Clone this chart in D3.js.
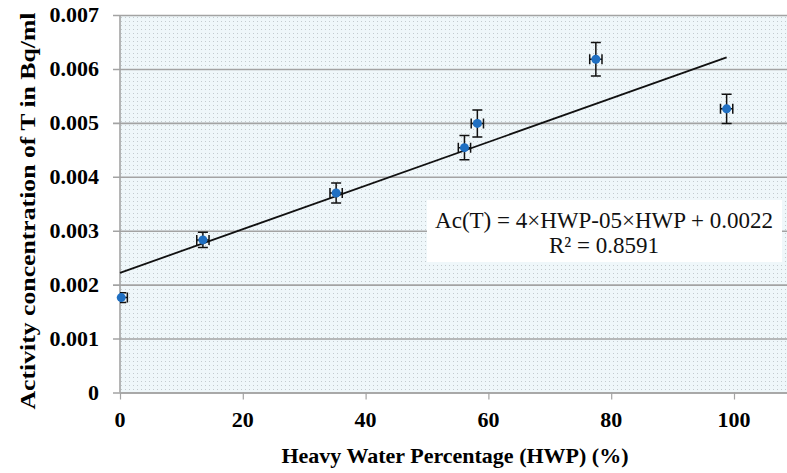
<!DOCTYPE html>
<html>
<head>
<meta charset="utf-8">
<script src="https://cdn.jsdelivr.net/npm/d3@7"></script>
<style>
  body { margin: 0; background: #fff; }
  svg { display: block; }
</style>
</head>
<body>
<div class="chart"></div>
<script>
// data
var hwp = [0.2, 13.5, 35.2, 56.1, 58.2, 77.5, 98.8];
var activity = [0.00176, 0.00283, 0.00370, 0.00454, 0.00499, 0.00618, 0.00526];
var xErr = [1, 1, 1, 1, 1, 1, 1];
var yErr = [0.00009, 0.00014, 0.000185, 0.000225, 0.00025, 0.00031, 0.00027];
var xTicks = [0, 20, 40, 60, 80, 100];
var yTicks = [0, 0.001, 0.002, 0.003, 0.004, 0.005, 0.006, 0.007];
var eqLines = ["Ac(T) = 4×HWP-05×HWP + 0.0022", "R² = 0.8591"];

var width = 787, height = 473;
var plotLeft = 120, plotTop = 15, plotBottom = 392.5;

var x = d3.scaleLinear().domain([0, 110]).range([plotLeft, plotLeft + 110 * 6.14]);
var y = d3.scaleLinear().domain([0, 0.007]).range([plotBottom, plotTop]);

var svg = d3.select(".chart").append("svg")
    .attr("width", width)
    .attr("height", height)
    .style("font-family", "'Liberation Serif', 'Times New Roman', serif");

var defs = svg.append("defs");
var pat = defs.append("pattern")
    .attr("id", "dots")
    .attr("width", 4).attr("height", 4)
    .attr("patternUnits", "userSpaceOnUse");
pat.append("rect").attr("width", 4).attr("height", 4).attr("fill", "#eff7fa");
pat.append("rect").attr("x", 1).attr("y", 1).attr("width", 1).attr("height", 1).attr("fill", "#c3cbcf");

defs.append("clipPath").attr("id", "plotclip")
  .append("rect")
    .attr("x", plotLeft).attr("y", 0)
    .attr("width", width - plotLeft).attr("height", plotBottom);

// plot background
svg.append("rect")
    .attr("x", plotLeft).attr("y", plotTop)
    .attr("width", width - plotLeft).attr("height", plotBottom - plotTop)
    .attr("fill", "url(#dots)");

// gridlines + left ticks
svg.append("g")
    .attr("transform", "translate(" + plotLeft + ",0)")
    .call(d3.axisLeft(y).tickValues(yTicks).tickSize(-(width - plotLeft)).tickSizeOuter(0).tickFormat(""))
    .call(function(g) {
      g.select(".domain").remove();
      g.selectAll(".tick line").attr("stroke", "#a3a3a3").attr("stroke-width", 1.6)
        .attr("x1", -7);
    });

// y tick labels
svg.append("g").selectAll("text")
    .data(yTicks)
    .enter().append("text")
    .attr("x", 99)
    .attr("y", function(d) { return y(d) + 7; })
    .attr("text-anchor", "end")
    .attr("font-weight", "bold")
    .attr("font-size", 22)
    .text(function(d) { return d === 0 ? "0" : d3.format(".3f")(d); });

// y axis line
svg.append("line")
    .attr("x1", plotLeft).attr("x2", plotLeft)
    .attr("y1", plotTop).attr("y2", plotBottom)
    .attr("stroke", "#a3a3a3").attr("stroke-width", 1.6);

// x axis
svg.append("g")
    .attr("transform", "translate(0," + plotBottom + ")")
    .call(d3.axisBottom(x).tickValues(xTicks).tickSize(7).tickSizeOuter(0).tickFormat(""))
    .call(function(g) {
      g.select(".domain").attr("stroke", "#a3a3a3").attr("stroke-width", 1.6);
      g.selectAll(".tick line").attr("stroke", "#a3a3a3").attr("stroke-width", 1.2);
    });

svg.append("g").selectAll("text")
    .data(xTicks)
    .enter().append("text")
    .attr("x", function(d) { return x(d); })
    .attr("y", 427)
    .attr("text-anchor", "middle")
    .attr("font-weight", "bold")
    .attr("font-size", 22)
    .text(function(d) { return d; });

// trendline, least squares through the points
var mx = d3.mean(hwp), my = d3.mean(activity);
var sxy = d3.sum(hwp, function(v, i) { return (v - mx) * (activity[i] - my); });
var sxx = d3.sum(hwp, function(v) { return (v - mx) * (v - mx); });
var slope = sxy / sxx, icpt = my - slope * mx;
var x0 = 0, x1 = d3.max(hwp);
svg.append("line")
    .attr("x1", x(x0)).attr("y1", y(icpt + slope * x0))
    .attr("x2", x(x1)).attr("y2", y(icpt + slope * x1))
    .attr("stroke", "#111").attr("stroke-width", 1.8);

// points + error bars
var pts = hwp.map(function(v, i) {
  return {x: v, y: activity[i], ex: xErr[i], ey: yErr[i]};
});
var cap = 5;
var eb = svg.append("g")
    .attr("clip-path", "url(#plotclip)")
    .attr("stroke", "#111").attr("stroke-width", 1.5).attr("fill", "none");
pts.forEach(function(d) {
  var cx = x(d.x), cy = y(d.y);
  var yt = y(d.y + d.ey), yb = y(d.y - d.ey);
  var xl = x(d.x - d.ex), xr = x(d.x + d.ex);
  var path = "M" + cx + "," + yt + "V" + yb +
    "M" + (cx - cap) + "," + yt + "H" + (cx + cap) +
    "M" + (cx - cap) + "," + yb + "H" + (cx + cap) +
    "M" + xl + "," + cy + "H" + xr +
    "M" + xl + "," + (cy - cap) + "V" + (cy + cap) +
    "M" + xr + "," + (cy - cap) + "V" + (cy + cap);
  eb.append("path").attr("d", path);
});

svg.append("g").selectAll("circle")
    .data(pts)
    .enter().append("circle")
    .attr("cx", function(d) { return x(d.x); })
    .attr("cy", function(d) { return y(d.y); })
    .attr("r", 4.5)
    .attr("fill", "#1f6fc2");

// equation label
svg.append("rect")
    .attr("x", 427).attr("y", 200)
    .attr("width", 355).attr("height", 62)
    .attr("fill", "#fff");
svg.append("g").selectAll("text")
    .data(eqLines)
    .enter().append("text")
    .attr("x", 604)
    .attr("y", function(d, i) { return 228 + i * 25; })
    .attr("text-anchor", "middle")
    .attr("font-size", 23)
    .attr("fill", "#111")
    .text(function(d) { return d; });

// axis titles
svg.append("text")
    .attr("x", 455).attr("y", 463)
    .attr("text-anchor", "middle")
    .attr("font-weight", "bold")
    .attr("font-size", 22)
    .text("Heavy Water Percentage (HWP) (%)");

svg.append("text")
    .attr("transform", "translate(35,211) rotate(-90)")
    .attr("text-anchor", "middle")
    .attr("font-weight", "bold")
    .attr("font-size", 22)
    .attr("textLength", 397)
    .attr("lengthAdjust", "spacingAndGlyphs")
    .text("Activity concentration of T in Bq/ml");
</script>
</body>
</html>
